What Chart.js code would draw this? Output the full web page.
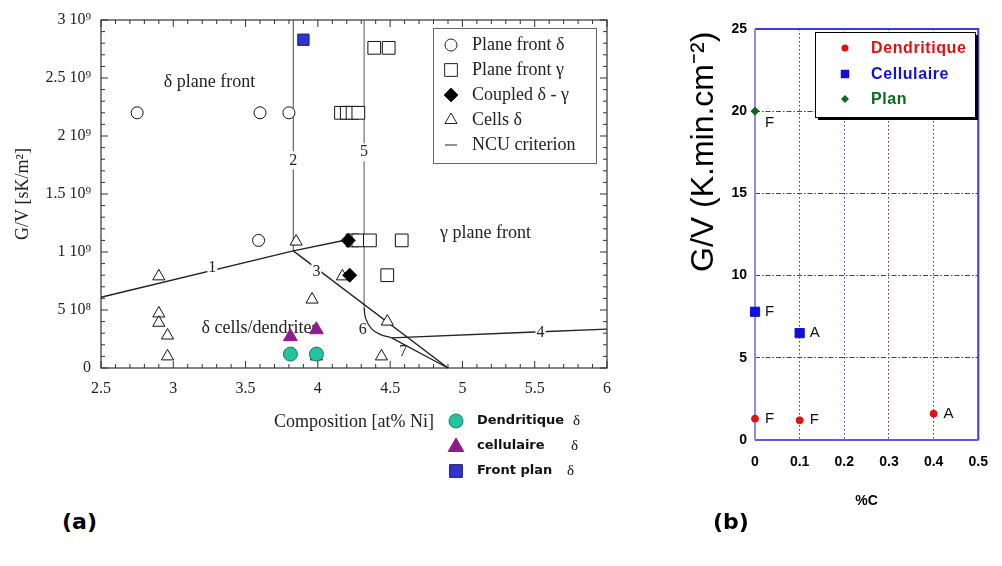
<!DOCTYPE html>
<html><head><meta charset="utf-8">
<script src="https://cdn.jsdelivr.net/npm/chart.js@4.4.0/dist/chart.umd.min.js"></script>
<style>
html,body{margin:0;padding:0;background:#fff;width:1002px;height:566px;overflow:hidden}
#ca{position:absolute;left:0;top:0}
#cb{position:absolute;left:690px;top:0}
.pl{position:absolute;font:bold 22px "DejaVu Sans",sans-serif;line-height:26px;color:#000}
</style></head><body>
<canvas id="ca" width="640" height="500"></canvas>
<canvas id="cb" width="312" height="520"></canvas>
<div class="pl" style="left:62px;top:509px">(a)</div>
<div class="pl" style="left:713px;top:509px">(b)</div>
<script>
// ---------- Panel (a) data ----------
const xTicksA = [2.5, 3, 3.5, 4, 4.5, 5, 5.5, 6];
const xTickLabelsA = ['2.5', '3', '3.5', '4', '4.5', '5', '5.5', '6'];
const yTicksA = [0, 5e8, 1e9, 1.5e9, 2e9, 2.5e9, 3e9];
const yTickLabelsA = ['0', '5 10⁸', '1 10⁹', '1.5 10⁹', '2 10⁹', '2.5 10⁹', '3 10⁹'];

const planeDeltaX = [2.75, 3.6, 3.8, 3.59];
const planeDeltaY = [2.2e9, 2.2e9, 2.2e9, 1.1e9];
const planeGammaX = [4.39, 4.49, 4.16, 4.2, 4.24, 4.28, 4.24, 4.28, 4.36, 4.58, 4.48];
const planeGammaY = [2.76e9, 2.76e9, 2.2e9, 2.2e9, 2.2e9, 2.2e9, 1.1e9, 1.1e9, 1.1e9, 1.1e9, 0.8e9];
const coupledX = [4.21, 4.22];
const coupledY = [1.1e9, 0.8e9];
const cellsX = [2.9, 2.9, 2.9, 2.96, 2.96, 3.85, 3.96, 4.17, 3.99, 4.48, 4.44];
const cellsY = [0.79e9, 0.47e9, 0.39e9, 0.28e9, 0.1e9, 1.09e9, 0.59e9, 0.79e9, 0.1e9, 0.4e9, 0.1e9];

const dendAX = [3.81, 3.99];
const dendAY = [0.12e9, 0.12e9];
const cellAX = [3.81, 3.99];
const cellAY = [0.27e9, 0.33e9];
const frontAX = [3.9];
const frontAY = [2.83e9];

// NCU criterion curves
const ncu1X = [2.5, 3.83, 4.22, 4.3];
const ncu1Y = [0.61e9, 1.01e9, 1.11e9, 1.13e9];
const ncu2X = [3.83, 3.83];
const ncu2Y = [1.01e9, 3.0e9];
const ncu3X = [3.83, 4.9];
const ncu3Y = [1.01e9, 0];
const ncu4X = [4.51, 5.5, 6];
const ncu4Y = [0.26e9, 0.31e9, 0.335e9];
const ncu5X = [4.32, 4.32];
const ncu5Y = [0.52e9, 3.0e9];
const ncu6X = [4.32, 4.33, 4.37, 4.43, 4.51];
const ncu6Y = [0.52e9, 0.43e9, 0.34e9, 0.29e9, 0.26e9];
const ncu7X = [4.51, 4.9];
const ncu7Y = [0.26e9, 0];
const ncuLabels = ['1', '2', '3', '4', '5', '6', '7'];
const ncuLabelX = [3.27, 3.83, 3.99, 5.54, 4.32, 4.31, 4.59];
const ncuLabelY = [0.86e9, 1.79e9, 0.83e9, 0.3e9, 1.86e9, 0.33e9, 0.14e9];

const regionTexts = ['δ plane front', 'γ plane front', 'δ cells/dendrites'];
const regionX = [3.25, 5.16, 3.6];
const regionY = [2.46e9, 1.16e9, 0.34e9];

const colorLegendLabels = ['Dendritique', 'cellulaire', 'Front plan'];

// ---------- Panel (b) data ----------
const xTicksB = [0, 0.1, 0.2, 0.3, 0.4, 0.5];
const xTickLabelsB = ['0', '0.1', '0.2', '0.3', '0.4', '0.5'];
const yTicksB = [0, 5, 10, 15, 20, 25];
const yTickLabelsB = ['0', '5', '10', '15', '20', '25'];
const dendBX = [0, 0.1, 0.4];
const dendBY = [1.3, 1.2, 1.6];
const dendBTags = ['F', 'F', 'A'];
const cellBX = [0, 0.1];
const cellBY = [7.8, 6.5];
const cellBTags = ['F', 'A'];
const planBX = [0];
const planBY = [20];
const planBTags = ['F'];

const zip = (xs, ys) => xs.map((x, i) => ({x, y: ys[i]}));
const SERIF = '"Liberation Serif", "DejaVu Serif", serif';
const SANS = '"Liberation Sans", Arial, sans-serif';

// ---------- Panel (a) ----------
function openPts(label, xs, ys, style, r, order) {
  return {label, data: zip(xs, ys), pointStyle: style, pointRadius: r, pointHoverRadius: r,
    pointBackgroundColor: '#fff', pointBorderColor: '#111', pointBorderWidth: 1, showLine: false, order, clip: false};
}
function ncu(xs, ys, color, width, tension, label) {
  return {label: label || '', data: zip(xs, ys), showLine: true, pointRadius: 0, borderColor: color,
    borderWidth: width, tension: tension || 0, order: 10, clip: false, fill: false};
}
const datasetsA = [
  openPts('Plane front δ', planeDeltaX, planeDeltaY, 'circle', 6, 3),
  openPts('Plane front γ', planeGammaX, planeGammaY, 'rect', 9, 3),
  {label: 'Coupled δ - γ', data: zip(coupledX, coupledY), pointStyle: 'rectRot', pointRadius: 7,
    pointBackgroundColor: '#000', pointBorderColor: '#000', showLine: false, order: 2, clip: false},
  openPts('Cells δ', cellsX, cellsY, 'triangle', 7, 3),
  ncu(ncu1X, ncu1Y, '#222', 1.4, 0, 'NCU criterion'),
  ncu(ncu2X, ncu2Y, '#555', 1.1),
  ncu(ncu3X, ncu3Y, '#222', 1.4),
  ncu(ncu4X, ncu4Y, '#222', 1.4),
  ncu(ncu5X, ncu5Y, '#666', 1.1),
  ncu(ncu6X, ncu6Y, '#222', 1.3, 0.4),
  ncu(ncu7X, ncu7Y, '#222', 1.3),
  {label: 'Dendritique', data: zip(dendAX, dendAY), pointStyle: 'circle', pointRadius: 7,
    pointBackgroundColor: '#22c39d', pointBorderColor: '#1a7a66', pointBorderWidth: 1, showLine: false, order: 0, clip: false},
  {label: 'cellulaire', data: zip(cellAX, cellAY), pointStyle: 'triangle', pointRadius: 8,
    pointBackgroundColor: '#8e1a8e', pointBorderColor: '#8e1a8e', pointBorderWidth: 1, showLine: false, order: 0, clip: false},
  {label: 'Front plan', data: zip(frontAX, frontAY), pointStyle: 'rect', pointRadius: 8,
    pointBackgroundColor: '#2f36d0', pointBorderColor: '#1c1c70', pointBorderWidth: 1, showLine: false, order: 0, clip: false}
];

function shape(ctx, style, x, y, r, fill, stroke) {
  ctx.save();
  ctx.beginPath();
  if (style === 'circle') ctx.arc(x, y, r, 0, Math.PI * 2);
  else if (style === 'rect') { const s = r * Math.SQRT1_2; ctx.rect(x - s, y - s, 2 * s, 2 * s); }
  else if (style === 'rectRot') { ctx.moveTo(x, y - r); ctx.lineTo(x + r, y); ctx.lineTo(x, y + r); ctx.lineTo(x - r, y); ctx.closePath(); }
  else if (style === 'triangle') {
    for (let k = 0; k < 3; k++) { const a = k * 2 * Math.PI / 3; const px = x + Math.sin(a) * r, py = y - Math.cos(a) * r; k ? ctx.lineTo(px, py) : ctx.moveTo(px, py); }
    ctx.closePath();
  } else if (style === 'line') { ctx.moveTo(x - r, y); ctx.lineTo(x + r, y); }
  if (fill) { ctx.fillStyle = fill; ctx.fill(); }
  if (stroke) { ctx.strokeStyle = stroke; ctx.lineWidth = 1; ctx.stroke(); }
  ctx.restore();
}

const pluginA = {
  id: 'pluginA',
  beforeDatasetsDraw(chart) {
    const {ctx, chartArea: a, scales: {x, y}} = chart;
    ctx.save();
    ctx.fillStyle = '#222';
    ctx.font = '18px ' + SERIF;
    ctx.textAlign = 'center'; ctx.textBaseline = 'middle';
    regionTexts.forEach((t, i) => ctx.fillText(t, x.getPixelForValue(regionX[i]), y.getPixelForValue(regionY[i])));
    ctx.strokeStyle = '#333'; ctx.lineWidth = 1.2;
    ctx.strokeRect(a.left, a.top, a.right - a.left, a.bottom - a.top);
    ctx.lineWidth = 1;
    ctx.beginPath();
    const nx = Math.round((x.max - x.min) / 0.1);
    for (let i = 0; i <= nx; i++) {
      const px = x.getPixelForValue(x.min + i * 0.1); const L = i % 5 === 0 ? 7 : 4;
      ctx.moveTo(px, a.bottom); ctx.lineTo(px, a.bottom - L);
      ctx.moveTo(px, a.top); ctx.lineTo(px, a.top + L);
    }
    const ny = Math.round((y.max - y.min) / 1e8);
    for (let i = 0; i <= ny; i++) {
      const py = y.getPixelForValue(y.min + i * 1e8); const L = i % 5 === 0 ? 7 : 4;
      ctx.moveTo(a.left, py); ctx.lineTo(a.left + L, py);
      ctx.moveTo(a.right, py); ctx.lineTo(a.right - L, py);
    }
    ctx.stroke();
    ctx.restore();
  },
  afterDatasetsDraw(chart) {
    const {ctx, scales: {x, y}} = chart;
    ctx.save();
    ctx.font = '16px ' + SERIF;
    ctx.textAlign = 'center'; ctx.textBaseline = 'middle';
    ncuLabels.forEach((t, i) => {
      const px = x.getPixelForValue(ncuLabelX[i]), py = y.getPixelForValue(ncuLabelY[i]);
      if (i !== 5 && i !== 6) { ctx.fillStyle = '#fff'; ctx.fillRect(px - 5, py - 9, 10, 18); }
      ctx.fillStyle = '#222'; ctx.fillText(t, px, py);
    });
    const bx = 433, by = 28, bw = 163, bh = 135;
    ctx.fillStyle = '#fff'; ctx.fillRect(bx, by, bw, bh);
    ctx.strokeStyle = '#666'; ctx.lineWidth = 1; ctx.strokeRect(bx + 0.5, by + 0.5, bw, bh);
    const items = [
      [datasetsA[0].label, 'circle', 6, '#fff'],
      [datasetsA[1].label, 'rect', 9, '#fff'],
      [datasetsA[2].label, 'rectRot', 7, '#000'],
      [datasetsA[3].label, 'triangle', 7, '#fff'],
      [datasetsA[4].label, 'line', 6, null]
    ];
    ctx.font = '18px ' + SERIF; ctx.textAlign = 'left'; ctx.textBaseline = 'middle';
    items.forEach((it, i) => {
      const ry = 45 + i * 25;
      shape(ctx, it[1], 451, ry, it[2], it[3], '#222');
      ctx.fillStyle = '#222'; ctx.fillText(it[0], 472, ry);
    });
    ctx.restore();
  },
  afterDraw(chart) {
    const {ctx} = chart;
    ctx.save();
    const rows = [421, 446, 471];
    shape(ctx, 'circle', 456, rows[0], 7, '#22c39d', '#1a7a66');
    shape(ctx, 'triangle', 456, rows[1] + 1, 9, '#8e1a8e', '#8e1a8e');
    shape(ctx, 'rect', 456, rows[2], 9, '#2f36d0', '#1c1c70');
    ctx.textAlign = 'left'; ctx.textBaseline = 'middle'; ctx.fillStyle = '#111';
    const dx = [573, 571, 567];
    colorLegendLabels.forEach((t, i) => {
      ctx.font = 'bold 13px "DejaVu Sans", sans-serif';
      ctx.fillText(t, 477, rows[i]);
      ctx.font = '15px ' + SERIF;
      ctx.fillText('δ', dx[i], rows[i]);
    });
    ctx.restore();
  }
};

new Chart(document.getElementById('ca'), {
  type: 'scatter',
  data: {datasets: datasetsA},
  options: {
    responsive: false, animation: false, events: [],
    layout: {padding: {left: 0, top: 20, right: 33, bottom: 0}},
    plugins: {legend: {display: false}, tooltip: {enabled: false}},
    scales: {
      x: {
        type: 'linear', min: 2.5, max: 6,
        afterBuildTicks: s => { s.ticks = xTicksA.map(v => ({value: v})); },
        afterFit: s => { s.height = 132; },
        ticks: {callback: v => xTickLabelsA[xTicksA.indexOf(v)], font: {family: SERIF, size: 16}, color: '#222', padding: 11, maxRotation: 0, autoSkip: false},
        grid: {display: false, drawTicks: false}, border: {display: false},
        title: {display: true, text: 'Composition [at% Ni]', color: '#222', font: {family: SERIF, size: 18}, padding: {top: 0, bottom: 67}}
      },
      y: {
        type: 'linear', min: 0, max: 3e9,
        afterBuildTicks: s => { s.ticks = yTicksA.map(v => ({value: v})); },
        afterFit: s => { s.width = 101; },
        ticks: {callback: v => yTickLabelsA[yTicksA.indexOf(v)], font: {family: SERIF, size: 16}, color: '#222', padding: 10, autoSkip: false},
        grid: {display: false, drawTicks: false}, border: {display: false},
        title: {display: true, text: 'G/V [sK/m²]', color: '#222', font: {family: SERIF, size: 18}, padding: {top: 12, bottom: 0}}
      }
    }
  },
  plugins: [pluginA]
});

// ---------- Panel (b) ----------
const tagSets = [dendBTags, cellBTags, planBTags];
const tagDy = [0, 0, 12];
const pluginB = {
  id: 'pluginB',
  beforeDatasetsDraw(chart) {
    const {ctx, chartArea: a} = chart;
    ctx.save();
    ctx.lineWidth = 2;
    ctx.strokeStyle = '#3a3ae0';
    ctx.beginPath(); ctx.moveTo(a.left, a.top); ctx.lineTo(a.right, a.top); ctx.lineTo(a.right, a.bottom); ctx.stroke();
    ctx.strokeStyle = '#5a5ae6';
    ctx.beginPath(); ctx.moveTo(a.left, a.bottom); ctx.lineTo(a.right, a.bottom); ctx.stroke();
    ctx.strokeStyle = '#8c8cec';
    ctx.beginPath(); ctx.moveTo(a.left, a.top); ctx.lineTo(a.left, a.bottom); ctx.stroke();
    ctx.restore();
  },
  afterDatasetsDraw(chart) {
    const {ctx} = chart;
    ctx.save();
    ctx.font = '15px ' + SANS; ctx.fillStyle = '#111'; ctx.textAlign = 'left'; ctx.textBaseline = 'middle';
    chart.data.datasets.forEach((ds, di) => {
      const meta = chart.getDatasetMeta(di);
      meta.data.forEach((pt, j) => ctx.fillText(tagSets[di][j], pt.x + 10, pt.y + tagDy[di]));
    });
    const bx = 125, by = 32, bw = 160, bh = 85;
    ctx.fillStyle = '#000'; ctx.fillRect(bx + 3, by + 3, bw, bh);
    ctx.fillStyle = '#fff'; ctx.fillRect(bx, by, bw, bh);
    ctx.strokeStyle = '#000'; ctx.lineWidth = 1; ctx.strokeRect(bx + 0.5, by + 0.5, bw, bh);
    const rows = [48, 74, 99];
    const cols = ['#e31010', '#1010d8', '#0a6a1a'];
    shape(ctx, 'circle', 155, rows[0], 3.5, cols[0], null);
    shape(ctx, 'rect', 155, rows[1], 6, cols[1], null);
    shape(ctx, 'rectRot', 155, rows[2], 4, cols[2], null);
    ctx.font = 'bold 16px ' + SANS;
    try { ctx.letterSpacing = '0.6px'; } catch (e) {}
    chart.data.datasets.forEach((ds, i) => { ctx.fillStyle = cols[i]; ctx.fillText(ds.label, 181, rows[i] + 1); });
    try { ctx.letterSpacing = '0px'; } catch (e) {}
    ctx.save();
    ctx.translate(23, 272); ctx.rotate(-Math.PI / 2);
    ctx.font = '32px ' + SANS; ctx.fillStyle = '#000'; ctx.textAlign = 'left'; ctx.textBaseline = 'alphabetic';
    ctx.fillText('G/V (K.min.cm⁻²)', 0, 0);
    ctx.restore();
    ctx.restore();
  }
};

new Chart(document.getElementById('cb'), {
  type: 'scatter',
  data: {datasets: [
    {label: 'Dendritique', data: zip(dendBX, dendBY), pointStyle: 'circle', pointRadius: 3.5, pointBackgroundColor: '#e31010', pointBorderColor: '#e31010', clip: false},
    {label: 'Cellulaire', data: zip(cellBX, cellBY), pointStyle: 'rect', pointRadius: 6.5, pointBackgroundColor: '#1010d8', pointBorderColor: '#1010d8', clip: false},
    {label: 'Plan', data: zip(planBX, planBY), pointStyle: 'rectRot', pointRadius: 4, pointBackgroundColor: '#0a6a1a', pointBorderColor: '#0a6a1a', clip: false}
  ]},
  options: {
    responsive: false, animation: false, events: [],
    layout: {padding: {left: 0, top: 29, right: 13, bottom: 0}},
    plugins: {legend: {display: false}, tooltip: {enabled: false}},
    scales: {
      x: {
        type: 'linear', min: 0, max: 0.5,
        afterBuildTicks: s => { s.ticks = xTicksB.map(v => ({value: v})); },
        afterFit: s => { s.height = 80; },
        ticks: {callback: v => xTickLabelsB[xTicksB.indexOf(v)], font: {family: SANS, size: 14, weight: 'bold'}, color: '#000', padding: 14, maxRotation: 0, autoSkip: false},
        grid: {color: '#3030d8', lineWidth: 1, drawTicks: false},
        border: {display: false, dash: [1.5, 2.5]},
        title: {display: true, text: '%C', color: '#000', font: {family: SANS, size: 14, weight: 'bold'}, padding: {top: 0, bottom: 10}}
      },
      y: {
        type: 'linear', min: 0, max: 25,
        afterBuildTicks: s => { s.ticks = yTicksB.map(v => ({value: v})); },
        afterFit: s => { s.width = 65; },
        ticks: {callback: v => yTickLabelsB[yTicksB.indexOf(v)], font: {family: SANS, size: 14, weight: 'bold'}, color: '#000', padding: 8, autoSkip: false},
        grid: {color: '#3030d8', lineWidth: 1, drawTicks: false},
        border: {display: false, dash: [5, 2, 1.5, 2]}
      }
    }
  },
  plugins: [pluginB]
});
</script>
</body></html>
